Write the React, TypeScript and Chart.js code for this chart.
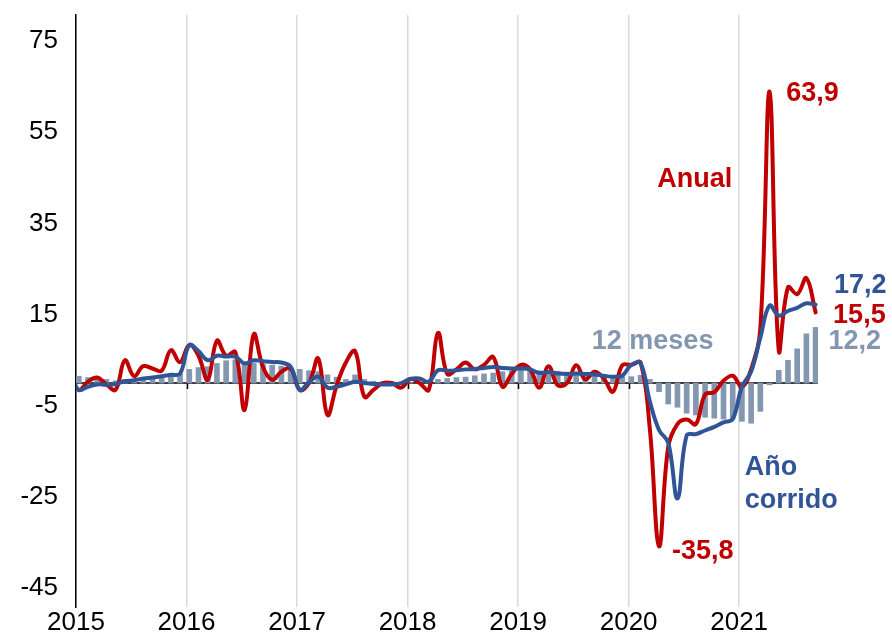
import React, { useEffect, useRef } from "react";
import { Chart, registerables } from "chart.js";

Chart.register(...registerables);

// ---------- data ----------
const START_YEAR = 2015;
const YEAR_LABELS = ["2015", "2016", "2017", "2018", "2019", "2020", "2021"];
const Y_TICKS = [-45, -25, -5, 15, 35, 55, 75];

// December 2014 values (only the entry of the lines at the axis)
const ANUAL_DEC_2014 = 2.5;
const CORRIDO_DEC_2014 = 1.5;

// Monthly, Jan 2015 .. Sep 2021
const anual = [
  -1.5, 0.3, 1.2, -0.3, -1.5, 5.0, 1.5, 3.7, 3.2, 2.7, 7.2, 4.6,
  8.3, 6.0, 0.7, 9.3, 6.0, 6.8, -5.9, 10.7, 3.5, 0.7, 2.5, 3.2,
  -1.5, 0.0, 5.4, -7.0, -0.5, 4.5, 7.0, -3.0, -1.5, 0.0, 0.0, -1.0,
  0.9, 0.0, -1.5, 11.0, 2.0, 3.0, 4.5, 3.0, 4.0, 5.7, -0.8, 2.0,
  4.0, 3.0, -1.0, 3.7, -0.5, 0.0, 3.9, 0.8, 2.5, 1.0, -1.9, 3.9,
  4.0, 4.5, -10.0, -35.8, -14.0, -9.0, -8.0, -9.0, -2.5, -2.0, 0.5, 1.6,
  -0.8, 3.0, 12.0, 63.9, 7.2, 21.0, 19.5, 23.0, 15.5,
];

const corrido = [
  -1.5, -0.8, -0.3, -0.4, -0.2, 0.4, 0.6, 1.0, 1.2, 1.5, 1.8, 2.1,
  8.3, 7.0, 5.0, 6.0, 5.8, 5.8, 4.3, 5.0, 4.8, 4.6, 4.5, 3.6,
  -1.5, 0.2, 1.4, -1.0, -0.8, -0.3, 0.3, 0.0, -0.2, -0.3, -0.3, 0.0,
  0.9, 1.0, 0.3, 2.8, 2.7, 2.8, 3.0, 3.1, 3.3, 3.5, 3.3, 3.2,
  3.2, 3.0, 2.2, 2.4, 2.1, 2.0, 2.1, 2.0, 1.9, 1.6, 1.4, 1.6,
  4.0, 4.3, -4.0, -10.3, -13.1, -25.3, -11.5, -11.2, -10.4, -9.6, -8.6, -7.9,
  -0.8, 2.5, 10.0, 17.0, 14.8, 15.8, 16.5, 17.5, 17.2,
];

const doceMeses = [
  1.5, 1.2, 1.0, 0.8, 0.5, 0.8, 0.8, 1.0, 1.1, 1.2, 1.7, 2.0,
  3.0, 3.4, 3.6, 4.3, 4.9, 5.1, 4.6, 4.4, 4.1, 3.9, 3.7, 3.4,
  3.0, 2.7, 2.5, 1.8, 1.3, 0.8, 1.8, 0.8, 0.4, 0.3, 0.2, 0.1,
  0.1, 0.2, 0.3, 0.8, 1.0, 1.2, 1.3, 1.6, 2.0, 2.2, 2.5, 2.7,
  2.8, 2.9, 2.7, 2.8, 2.6, 2.4, 2.3, 2.2, 2.1, 1.8, 1.5, 1.4,
  1.4, 1.7, 0.8, -1.9, -4.6, -5.3, -6.6, -7.0, -7.5, -7.7, -7.9, -7.9,
  -8.4, -8.8, -6.2, -0.4, 2.8, 5.0, 7.5, 10.8, 12.2,
];

// ---------- style ----------
const RED = "#C00000";
const BLUE = "#2F5597";
const GRAY = "#8497B0";
const GRID = "#D9D9D9";
const FONT = "'Liberation Sans', Arial, sans-serif";
const MONTH_OFFSET = 0.3;
const X_MAX = 80.56;
const Y_MIN = -49.1;
const Y_MAX = 80.7;

const fmt = (v: number) => v.toFixed(1).replace(".", ",");
const pos = (i: number) => i + MONTH_OFFSET;

const overlay = {
  id: "overlay",
  beforeDatasetsDraw(chart: any) {
    const { ctx, chartArea, scales } = chart;
    const x = scales.x;
    const y = scales.y;
    const y0 = y.getPixelForValue(0);
    ctx.save();
    ctx.strokeStyle = "#000";
    ctx.lineWidth = 1.5;
    ctx.beginPath();
    ctx.moveTo(chartArea.left, y0);
    ctx.lineTo(chartArea.right, y0);
    YEAR_LABELS.forEach((_, i) => {
      const px = Math.round(x.getPixelForValue(i * 12)) + 0.5;
      ctx.moveTo(px, y0);
      ctx.lineTo(px, y0 + 6);
    });
    ctx.stroke();
    ctx.restore();
  },
  afterDatasetsDraw(chart: any) {
    const { ctx, scales } = chart;
    const x = scales.x;
    const y = scales.y;
    const maxV = Math.max(...anual);
    const minV = Math.min(...anual);
    const labels: [string, string, number, number][] = [
      [fmt(maxV), RED, 77.1, 61.9],
      ["Anual", RED, 63.1, 43.0],
      [fmt(corrido[corrido.length - 1]), BLUE, 82.3, 19.7],
      [fmt(anual[anual.length - 1]), RED, 82.2, 13.2],
      [fmt(doceMeses[doceMeses.length - 1]), GRAY, 81.7, 7.4],
      ["12 meses", GRAY, 56.0, 7.5],
      ["Año", BLUE, 72.6, -20.2],
      ["corrido", BLUE, 72.6, -27.4],
      [fmt(minV), RED, 64.7, -38.6],
    ];
    ctx.save();
    ctx.font = `bold 27px ${FONT}`;
    ctx.textBaseline = "alphabetic";
    ctx.textAlign = "left";
    labels.forEach(([t, c, xv, yv]) => {
      ctx.fillStyle = c;
      ctx.fillText(t, x.getPixelForValue(xv), y.getPixelForValue(yv));
    });
    ctx.restore();
  },
};

const zeroPad = (s: any) => {
  s.paddingTop = 0;
  s.paddingBottom = 0;
  s.paddingLeft = 0;
  s.paddingRight = 0;
};

export default function App() {
  const ref = useRef<HTMLCanvasElement | null>(null);

  useEffect(() => {
    document.body.style.margin = "0";
    if (!ref.current) return;
    const chart = new Chart(ref.current, {
      type: "bar",
      data: {
        datasets: [
          {
            type: "line",
            label: "Año corrido",
            data: [{ x: pos(-1), y: CORRIDO_DEC_2014 }, ...corrido.map((v, i) => ({ x: pos(i), y: v }))],
            borderColor: BLUE,
            backgroundColor: BLUE,
            borderWidth: 4,
            pointRadius: 0,
            tension: 0.4,
            borderCapStyle: "round",
            borderJoinStyle: "round",
            order: 0,
          } as any,
          {
            type: "line",
            label: "Anual",
            data: [{ x: pos(-1), y: ANUAL_DEC_2014 }, ...anual.map((v, i) => ({ x: pos(i), y: v }))],
            borderColor: RED,
            backgroundColor: RED,
            borderWidth: 4,
            pointRadius: 0,
            tension: 0.4,
            borderCapStyle: "round",
            borderJoinStyle: "round",
            order: 1,
          } as any,
          {
            type: "bar",
            label: "12 meses",
            data: doceMeses.map((v, i) => ({ x: pos(i), y: v })),
            backgroundColor: GRAY,
            barThickness: 5,
            order: 2,
          } as any,
        ],
      },
      options: {
        animation: false,
        responsive: false,
        devicePixelRatio: 1,
        layout: { padding: { top: 15, right: 74, left: 0, bottom: 0 } },
        plugins: { legend: { display: false }, tooltip: { enabled: false } },
        scales: {
          x: {
            type: "linear",
            offset: false,
            min: 0,
            max: X_MAX,
            afterBuildTicks: (s: any) => {
              s.ticks = YEAR_LABELS.map((_, i) => ({ value: i * 12 }));
            },
            afterFit: (s: any) => {
              s.height = 29;
              zeroPad(s);
            },
            ticks: {
              callback: (v: any) => YEAR_LABELS[Math.round(Number(v) / 12)] ?? String(START_YEAR),
              font: { family: FONT, size: 26 },
              color: "#000",
              padding: 0,
              maxRotation: 0,
              autoSkip: false,
            },
            grid: { display: true, offset: false, color: GRID, lineWidth: 1.5, drawTicks: false },
            border: { display: false },
          },
          y: {
            min: Y_MIN,
            max: Y_MAX,
            afterBuildTicks: (s: any) => {
              s.ticks = Y_TICKS.map((v) => ({ value: v }));
            },
            afterFit: (s: any) => {
              s.width = 76;
              zeroPad(s);
            },
            ticks: {
              font: { family: FONT, size: 26 },
              color: "#000",
              padding: 18,
            },
            grid: { display: false, drawTicks: false },
            border: { display: true, color: "#000", width: 1.5 },
          },
        },
      },
      plugins: [overlay],
    } as any);
    return () => chart.destroy();
  }, []);

  return (
    <div style={{ width: 892, height: 636 }}>
      <canvas ref={ref} width={892} height={636} />
    </div>
  );
}
